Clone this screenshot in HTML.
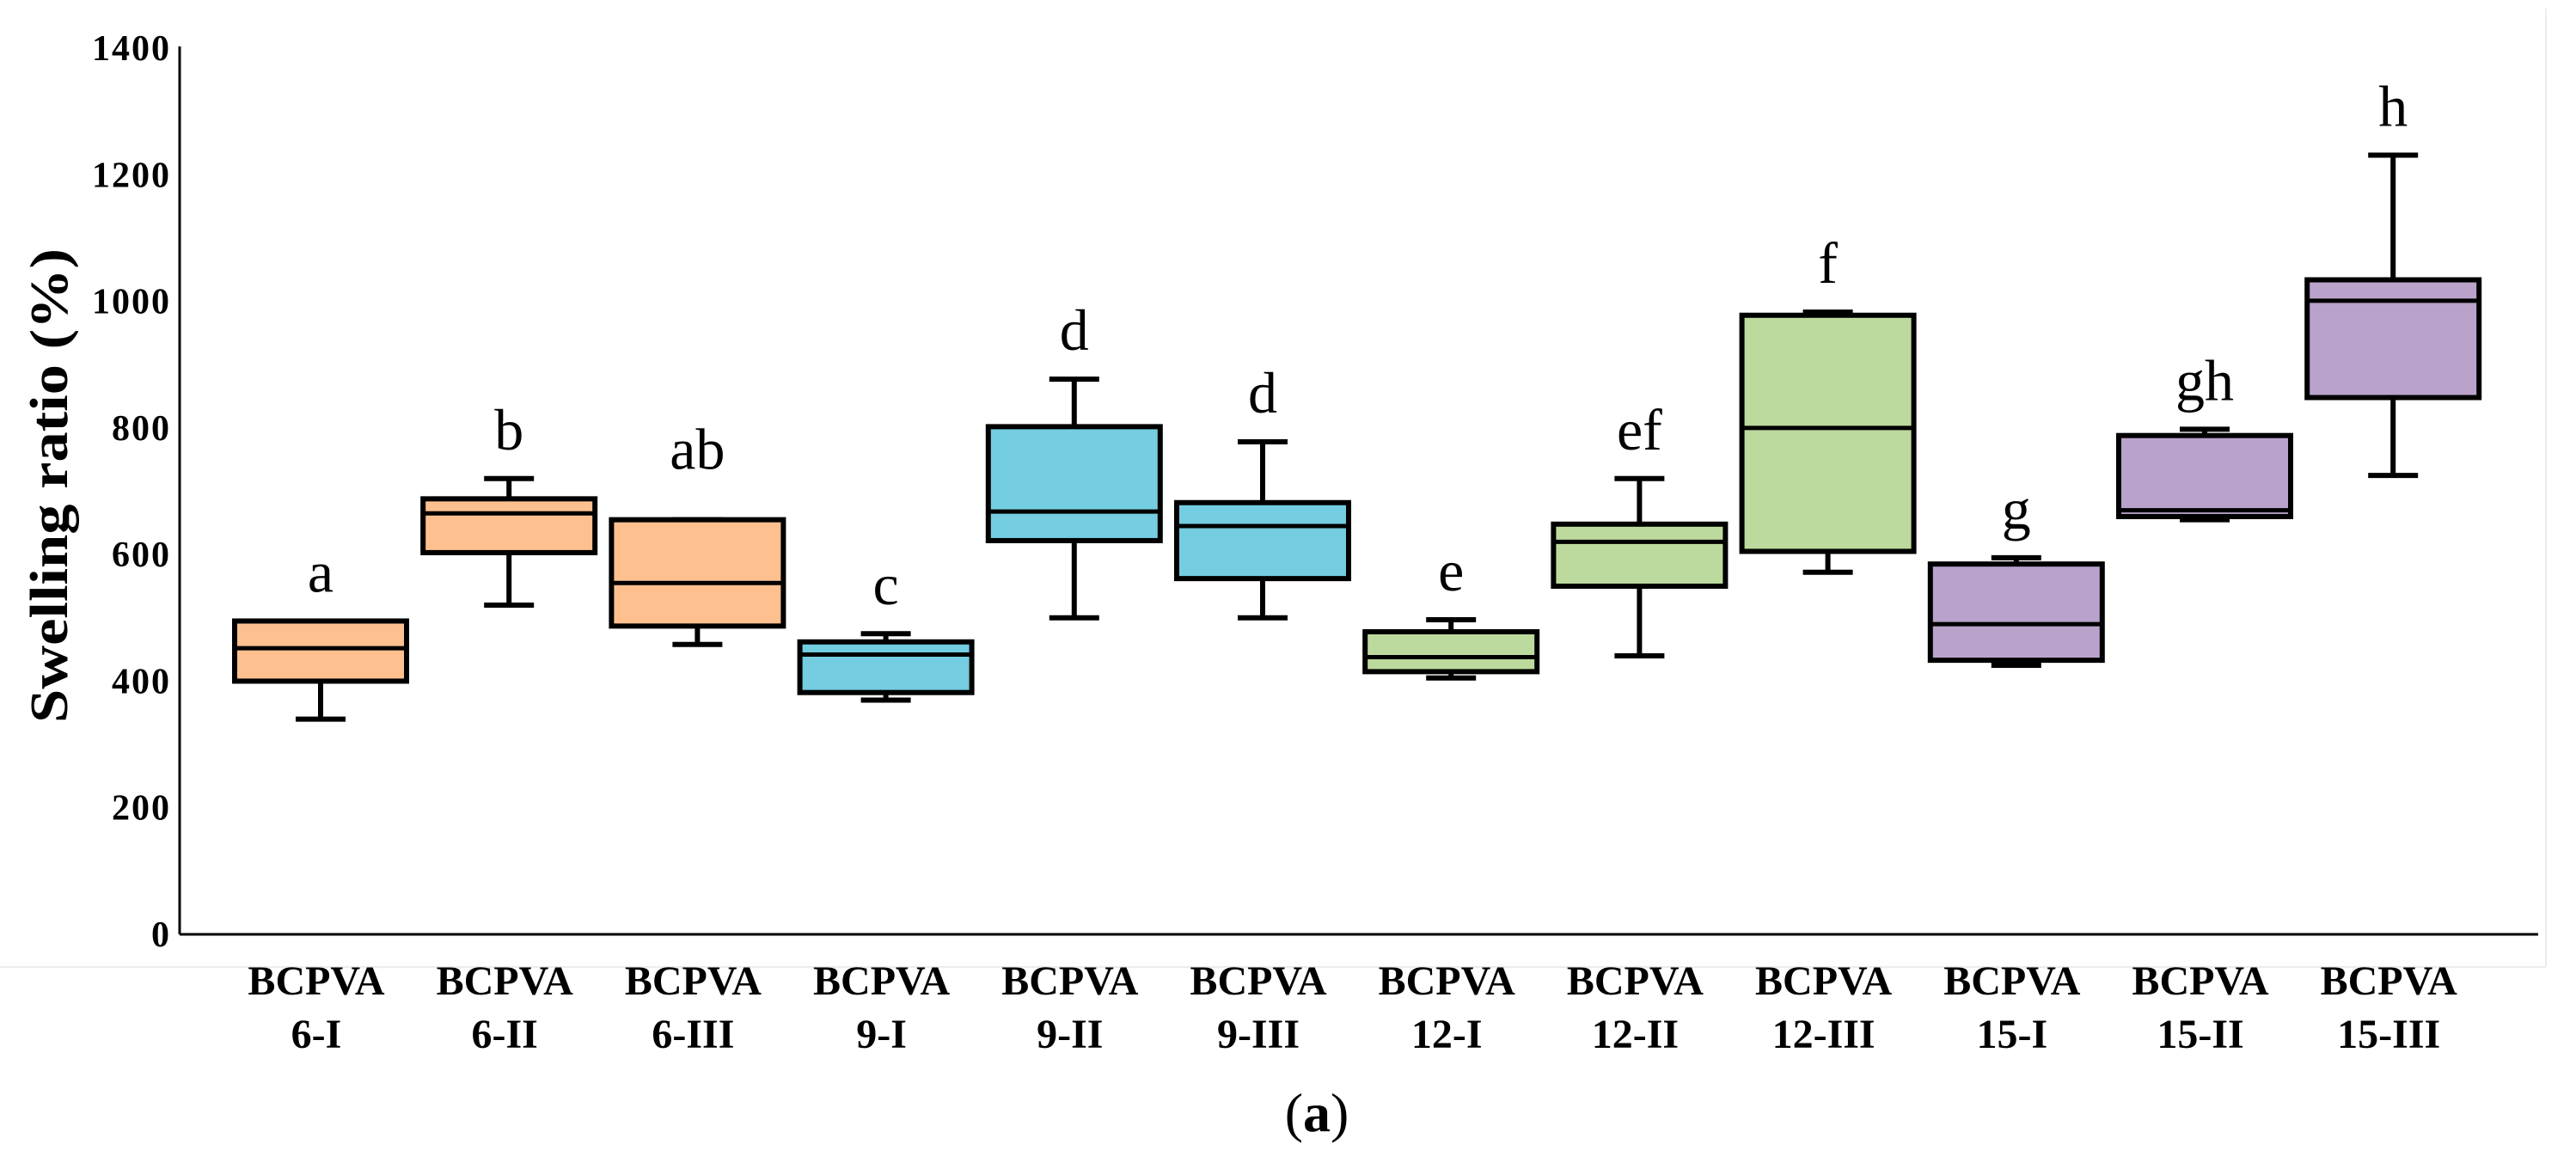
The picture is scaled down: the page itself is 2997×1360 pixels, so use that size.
<!DOCTYPE html>
<html><head><meta charset="utf-8"><style>
html,body{margin:0;padding:0;background:#fff;}
svg{display:block;}
text{font-family:"Liberation Serif",serif;}
</style></head><body>
<svg id="chart" width="2997" height="1360" viewBox="0 0 2997 1360" xmlns="http://www.w3.org/2000/svg">
<line x1="0" y1="1125" x2="2962" y2="1125" stroke="#ececec" stroke-width="2"/>
<line x1="2962" y1="10" x2="2962" y2="1125" stroke="#ececec" stroke-width="2"/>
<g id="marks"></g>
<line x1="209" y1="54" x2="209" y2="1087" stroke="#000" stroke-width="3"/>
<line x1="209" y1="1087" x2="2953" y2="1087" stroke="#000" stroke-width="3"/>
<text transform="translate(78,565) rotate(-90)" text-anchor="middle" font-size="62" font-weight="bold" textLength="552" lengthAdjust="spacingAndGlyphs">Swelling ratio (%)</text>
<text x="1532" y="1316" text-anchor="middle" font-size="64">(<tspan font-weight="bold">a</tspan>)</text>
</svg>
<script>
const categories = ["6-I","6-II","6-III","9-I","9-II","9-III","12-I","12-II","12-III","15-I","15-II","15-III"];
const whiskerLow = [340,520,458,370,500,500,405,440,572,425,655,725];
const q1 = [400,603,487,382,622,562,415,550,605,433,660,848];
const median = [452,665,555,442,668,645,438,620,800,490,670,1001];
const q3 = [495,688,655,462,802,682,478,648,978,585,788,1034];
const whiskerHigh = [495,720,655,475,877,778,497,720,983,595,798,1231];
const letters = ["a","b","ab","c","d","d","e","ef","f","g","gh","h"];
const colors = ["#FFC08F","#FFC08F","#FFC08F","#74CDE0","#74CDE0","#74CDE0","#BDDA9E","#BDDA9E","#BDDA9E","#B9A3CA","#B9A3CA","#B9A3CA"];
const yTicks = [0,200,400,600,800,1000,1200,1400];

const NS = "http://www.w3.org/2000/svg";
const g = document.getElementById("marks");
const y = v => 1087 - v * (1031 / 1400);
const x = i => 373 + i * 219.2;
function mk(tag, attrs) {
  const e = document.createElementNS(NS, tag);
  for (const k in attrs) e.setAttribute(k, attrs[k]);
  g.appendChild(e);
  return e;
}
yTicks.forEach(t => {
  const e = mk("text", {x: 199, y: y(t) + 14, "text-anchor": "end", "font-size": 42, "font-weight": "bold", "letter-spacing": 2});
  
  
  e.textContent = t;
});
categories.forEach((c, i) => {
  const cx = x(i), w = 200, cap = 58;
  const wl = mk("line", {x1: cx, x2: cx, y1: y(whiskerLow[i]), y2: y(whiskerHigh[i]), stroke: "#000", "stroke-width": 6});
  
  
  const cl = mk("line", {x1: cx - cap/2, x2: cx + cap/2, y1: y(whiskerLow[i]), y2: y(whiskerLow[i]), stroke: "#000", "stroke-width": 6});
  
  
  const ch = mk("line", {x1: cx - cap/2, x2: cx + cap/2, y1: y(whiskerHigh[i]), y2: y(whiskerHigh[i]), stroke: "#000", "stroke-width": 6});
  
  
  const b = mk("rect", {x: cx - w/2, y: y(q3[i]), width: w, height: y(q1[i]) - y(q3[i]), fill: colors[i], stroke: "#000", "stroke-width": 6});
  
  
  const m = mk("line", {x1: cx - w/2, x2: cx + w/2, y1: y(median[i]), y2: y(median[i]), stroke: "#000", "stroke-width": 5});
  
  
  const lt = mk("text", {x: cx, y: y(whiskerHigh[i]) - (letters[i] === "ab" ? 59 : 34), "text-anchor": "middle", "font-size": 68});
  
  
  lt.textContent = letters[i];
  const l1 = mk("text", {x: cx - 5, y: 1157, "text-anchor": "middle", "font-size": 48, "font-weight": "bold"});
  
  
  l1.textContent = "BCPVA";
  const l2 = mk("text", {x: cx - 5, y: 1219, "text-anchor": "middle", "font-size": 48, "font-weight": "bold"});
  
  
  l2.textContent = c;
});
</script>
</body></html>
